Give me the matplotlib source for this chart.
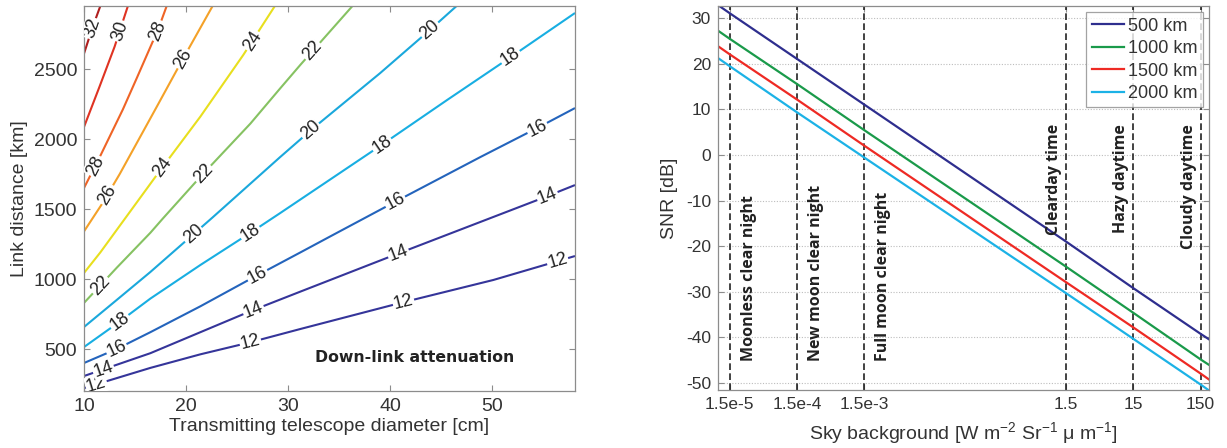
import numpy as np
import matplotlib.pyplot as plt

plt.rcParams['font.family'] = ['Liberation Sans', 'DejaVu Sans']
plt.rcParams['axes.unicode_minus'] = False
plt.rcParams['mathtext.default'] = 'regular'

# ---- left panel: down-link attenuation contours (dB) ----
# link distance [km] versus telescope diameter [cm], one list pair per level
d12 = [10.0, 16.5, 21.4, 26.3, 31.2, 41.0, 50.1, 58.1]
L12 = [221, 365, 462, 548, 643, 829, 993, 1164]
d14 = [10.0, 16.5, 21.4, 26.3, 31.2, 40.0, 46.6, 54.7, 58.1]
L14 = [307, 470, 620, 770, 910, 1160, 1345, 1572, 1671]
d16 = [10.0, 13.2, 16.5, 21.4, 26.3, 31.2, 34.4, 40.7, 48.8, 54.7, 58.1]
L16 = [400, 500, 620, 805, 1000, 1190, 1315, 1560, 1870, 2090, 2221]
d18 = [10.0, 13.2, 16.5, 21.4, 26.3, 29.2, 39.0, 45.6, 52.1, 58.1]
L18 = [514, 680, 860, 1100, 1330, 1470, 1950, 2280, 2600, 2900]
d20 = [10.0, 13.2, 16.5, 20.1, 22.6, 29.2, 32.5, 39.0, 43.9, 46.5]
L20 = [657, 850, 1050, 1280, 1440, 1870, 2080, 2470, 2780, 2950]
d22 = [10.0, 13.2, 16.5, 17.7, 21.4, 26.3, 29.2, 31.2, 36.3]
L22 = [829, 1080, 1330, 1430, 1730, 2110, 2360, 2530, 2950]
d24 = [10.0, 11.6, 13.2, 17.5, 21.4, 25.6, 28.7]
L24 = [1043, 1190, 1350, 1780, 2160, 2600, 2950]
d26 = [10.0, 11.8, 13.5, 17.2, 19.6, 22.6]
L26 = [1340, 1540, 1750, 2240, 2560, 2950]
d28 = [10.0, 11.6, 13.8, 15.2, 17.3, 18.1]
L28 = [1650, 1880, 2210, 2440, 2790, 2950]
d30 = [10.0, 11.5, 13.0, 14.3]
L30 = [2086, 2370, 2660, 2950]
d32 = [10.0, 10.8, 11.6]
L32 = [2610, 2790, 2950]

levels = [12, 14, 16, 18, 20, 22, 24, 26, 28, 30, 32]
diams = [d12, d14, d16, d18, d20, d22, d24, d26, d28, d30, d32]
dists = [L12, L14, L16, L18, L20, L22, L24, L26, L28, L30, L32]
level_colors = ['#35359a', '#35359a', '#2464bc', '#18aee2', '#1aa8dc',
                '#86c262', '#e8df1e', '#f4a128', '#ef6426', '#df3322', '#b01e1e']
# diameters where the inline labels sit
label_at = [[11.2, 26.3, 41.3, 56.4], [11.9, 26.6, 40.8, 55.4],
            [13.2, 27.0, 40.5, 54.4], [13.5, 26.3, 39.2, 51.8],
            [20.7, 32.2, 43.9], [11.6, 21.7, 32.4], [17.7, 26.5],
            [12.3, 19.7], [11.1, 17.2], [13.5], [10.8]]

# ---- right panel: SNR versus sky background ----
sky_bg = [1e-5, 1.5e-5, 1.5e-4, 1.5e-3, 1.5, 15, 150, 200]
snr_500 = [32.8, 31.0, 21.0, 11.0, -19.0, -29.2, -39.2, -40.4]
snr_1000 = [27.2, 25.4, 15.5, 5.4, -24.5, -34.6, -44.8, -46.0]
snr_1500 = [23.8, 22.0, 12.1, 2.0, -27.9, -37.8, -47.9, -49.2]
snr_2000 = [21.2, 19.4, 9.3, -0.6, -30.3, -40.3, -50.3, -51.6]
series_names = ['500 km', '1000 km', '1500 km', '2000 km']
series_colors = ['#2e2e8e', '#1a9a4a', '#ee2a24', '#1cb2e6']

marker_bg = [1.5e-5, 1.5e-4, 1.5e-3, 1.5, 15, 150]
marker_tick = ['1.5e-5', '1.5e-4', '1.5e-3', '1.5', '15', '150']
marker_names = ['Moonless clear night', 'New moon clear night', 'Full moon clear night',
                'Clearday time', 'Hazy daytime', 'Cloudy daytime']

W, H = 1227, 448
fig = plt.figure(figsize=(W / 100, H / 100), dpi=100)
ax1 = fig.add_axes([84 / W, 1 - 391 / H, 491 / W, 385 / H])
ax2 = fig.add_axes([718 / W, 1 - 390 / H, 491 / W, 384 / H])

txt = '#333333'
for ax in (ax1, ax2):
    for s in ax.spines.values():
        s.set_color('#8c8c8c')
        s.set_linewidth(0.9)
    ax.tick_params(direction='in', length=4, width=0.8, color='#8c8c8c',
                   top=True, right=True, labelcolor=txt)

# left panel
ax1.set_xlim(10, 58.1)
ax1.set_ylim(200, 2950)
ax1.set_xticks([10, 20, 30, 40, 50])
ax1.set_yticks([500, 1000, 1500, 2000, 2500])
ax1.tick_params(labelsize=14, pad=5)
ax1.set_xlabel('Transmitting telescope diameter [cm]', fontsize=14, color=txt, labelpad=2)
ax1.set_ylabel('Link distance [km]', fontsize=14, color=txt, labelpad=4)

for lev, dx, ly, col, where in zip(levels, diams, dists, level_colors, label_at):
    ax1.plot(dx, ly, color=col, lw=1.5, solid_capstyle='butt')
    for xl in where:
        yl = np.interp(xl, dx, ly)
        p0 = ax1.transData.transform((xl - 0.5, np.interp(xl - 0.5, dx, ly)))
        p1 = ax1.transData.transform((xl + 0.5, np.interp(xl + 0.5, dx, ly)))
        ang = np.degrees(np.arctan2(p1[1] - p0[1], p1[0] - p0[0]))
        ax1.text(xl, yl, str(lev), fontsize=13, color='#222222', rotation=ang,
                 rotation_mode='anchor', ha='center', va='center', clip_on=True,
                 bbox=dict(boxstyle='square,pad=0.05', fc='white', ec='none'))

ax1.text(0.674, 0.086, 'Down-link attenuation', transform=ax1.transAxes,
         fontsize=11.3, fontweight='bold', family='DejaVu Sans', color='#222222',
         ha='center', va='center')

# right panel
ax2.set_xscale('log')
ax2.set_xlim(1e-5, 200)
ax2.set_ylim(-51.5, 32.6)
ax2.set_yticks(np.arange(-50, 31, 10))
ax2.set_xticks(marker_bg)
ax2.set_xticklabels(marker_tick)
ax2.xaxis.set_minor_locator(plt.NullLocator())
ax2.tick_params(labelsize=12.5, pad=5)
ax2.yaxis.grid(True, linestyle=(0, (1, 1.5)), color='#bdbdbd', lw=0.8)
ax2.set_axisbelow(True)
ax2.set_xlabel('Sky background [W m$^{-2}$ Sr$^{-1}$ $\\mu$ m$^{-1}$]', fontsize=14,
               color=txt, labelpad=6)
ax2.set_ylabel('SNR [dB]', fontsize=14, color=txt, labelpad=6)

for bg in marker_bg:
    ax2.axvline(bg, color='#222222', lw=1.2, linestyle=(0, (4, 2)))

for vals, name, col in zip([snr_500, snr_1000, snr_1500, snr_2000], series_names, series_colors):
    ax2.plot(sky_bg, vals, color=col, lw=1.6, label=name)

for i, (bg, name) in enumerate(zip(marker_bg, marker_names)):
    if i < 3:
        ax2.annotate(name, xy=(bg, 0.075), xycoords=('data', 'axes fraction'),
                     xytext=(19, 0), textcoords='offset pixels', rotation=90,
                     ha='center', va='bottom', fontsize=11.5, fontweight='bold',
                     family='Open Sans', color='#222222')
    else:
        ax2.annotate(name, xy=(bg, 0.693), xycoords=('data', 'axes fraction'),
                     xytext=(-12, 0), textcoords='offset pixels', rotation=90,
                     ha='center', va='top', fontsize=11.5, fontweight='bold',
                     family='Open Sans', color='#222222')

leg = ax2.legend(loc='upper right', fontsize=13, frameon=True, fancybox=False,
                 handlelength=1.8, handletextpad=0.2, labelspacing=0.3,
                 borderaxespad=0.35, borderpad=0.3)
leg.get_frame().set_edgecolor('#8c8c8c')
leg.get_frame().set_linewidth(0.9)
for t in leg.get_texts():
    t.set_color(txt)

fig.savefig('out.png', dpi=100)
